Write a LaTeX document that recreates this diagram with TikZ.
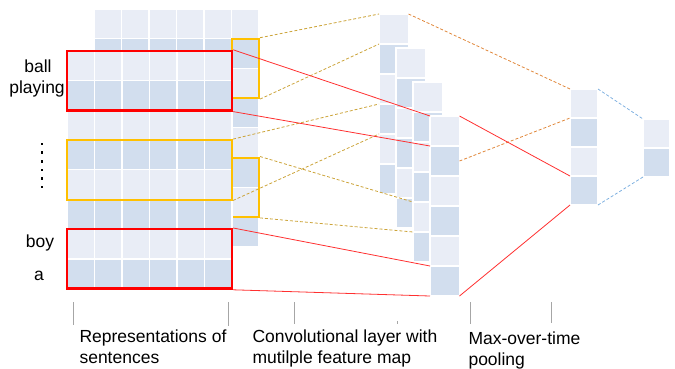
\documentclass[tikz,border=0pt]{standalone}
\usepackage{fontspec}
\setmainfont{Liberation Sans}
\usetikzlibrary{fit}
\definecolor{cellA}{HTML}{E9EDF6}
\definecolor{cellB}{HTML}{D2DEEE}
\definecolor{winOrange}{HTML}{FFC000}
\definecolor{lineGold}{HTML}{CCA43A}
\definecolor{lineOrange}{HTML}{E0873A}
\definecolor{lineRed}{HTML}{FF3030}
\definecolor{lineBlue}{HTML}{7EB0E0}
\tikzstyle{cell} = [rectangle, draw=white, line width=1.2pt, inner sep=0pt, outer sep=0pt, anchor=north west]
\tikzstyle{redwin} = [rectangle, draw=red, line width=2.4pt, inner sep=0pt]
\tikzstyle{goldwin} = [rectangle, draw=winOrange, line width=2pt, inner sep=0pt]
\tikzstyle{goldline} = [densely dashed, draw=lineGold, line width=0.8pt]
\tikzstyle{orangeline} = [densely dashed, draw=lineOrange, line width=0.8pt]
\tikzstyle{blueline} = [densely dashed, draw=lineBlue, line width=0.8pt]
\tikzstyle{redline} = [draw=lineRed, line width=0.8pt]
\tikzstyle{tick} = [draw=gray!70, line width=0.7pt]
\tikzstyle{word} = [font=\fontsize{17.5}{20.5}\selectfont]

\begin{document}
\begin{tikzpicture}[x=1pt,y=-1pt]
\useasboundingbox (0,0) rectangle (675,368);

\foreach \r/\sh in {1/cellA,2/cellB,3/cellA,4/cellB,5/cellA,6/cellB,7/cellA,8/cellB}
  \foreach \c in {1,...,6}
    \node[cell, fill=\sh, minimum width=27.5pt, minimum height=29.7pt] (b-\r-\c) at ({94+27.5*(\c-1)}, {9+29.7*(\r-1)}) {};
\node (bk1) [goldwin, fit=(b-2-6)(b-3-6)] {};
\node (bk2) [goldwin, fit=(b-6-6)(b-7-6)] {};

\foreach \r/\sh in {1/cellA,2/cellB,3/cellA,4/cellB,5/cellA,6/cellB,7/cellA,8/cellB}
  \foreach \c in {1,...,6}
    \node[cell, fill=\sh, minimum width=27.5pt, minimum height=29.7pt] (f-\r-\c) at ({67+27.5*(\c-1)}, {51+29.7*(\r-1)}) {};
\node (win1) [redwin, fit=(f-1-1)(f-2-6)] {};
\node (win2) [goldwin, fit=(f-4-1)(f-5-6)] {};
\node (win3) [redwin, fit=(f-7-1)(f-8-6)] {};

\foreach \k in {1,...,4}
  \foreach \i/\sh in {1/cellA,2/cellB,3/cellA,4/cellB,5/cellA,6/cellB}
    \node[cell, fill=\sh, minimum width=29.5pt, minimum height=30pt] (m\k-\i) at ({379+17*(\k-1)}, {14+34*(\k-1)+30*(\i-1)}) {};

\foreach \i/\sh in {1/cellA,2/cellB,3/cellA,4/cellB}
  \node[cell, fill=\sh, minimum width=28pt, minimum height=29pt] (p-\i) at (570, {89+29*(\i-1)}) {};
\foreach \i/\sh in {1/cellA,2/cellB}
  \node[cell, fill=\sh, minimum width=27pt, minimum height=29pt] (o-\i) at (643, {119+29*(\i-1)}) {};

\draw [goldline] (bk1.north east) -- (m1-1.north west);
\draw [goldline] (bk1.south east) -- (m1-1.south west);
\draw [goldline] (win2.north east) -- (m1-3.south west);
\draw [goldline] (win2.south east) -- (m1-4.south west);
\draw [goldline] (bk2.north east) -- (m3-5.north west);
\draw [goldline] (bk2.south east) -- (m3-5.south west);
\draw [redline] (win1.north east) -- (m4-1.north west);
\draw [redline] (win1.south east) -- (m4-1.south west);
\draw [redline] (win3.north east) -- (m4-6.north west);
\draw [redline] (win3.south east) -- (m4-6.south west);
\draw [orangeline] (m1-1.north east) -- (p-1.north west);
\draw [orangeline] (m4-2.east) -- (p-1.south west);
\draw [redline] (m4-1.north east) -- (p-4.north west);
\draw [redline] (m4-6.south east) -- (p-4.south west);
\draw [blueline] (p-1.north east) -- (o-1.north west);
\draw [blueline] (p-4.south east) -- (o-2.south west);

\node (ball) [word, anchor=base] at (38,72) {ball};
\node (playing) [word, anchor=base] at (37,93) {playing};
\node (boy) [word, anchor=base] at (40,247) {boy};
\node (a) [word, anchor=base] at (39,280) {a};
\foreach \i in {0,...,5}
  \fill (40.7,{142.7+8.6*\i}) rectangle +(2.6,2.6);

\foreach \x/\a/\b in {73/302/325,228/302/326,294/302/324,397/321/324,470/302/324,551/302/323}
  \draw [tick] (\x,\a) -- (\x,\b);
\node (rep) [word, anchor=base west, align=left] at (76,363) {Representations of\\sentences};
\node (conv) [word, anchor=base west, align=left] at (249,363) {Convolutional layer with\\mutilple feature map};
\node (pool) [word, anchor=base west, align=left] at (465,365) {Max-over-time\\pooling};
\end{tikzpicture}
\end{document}
